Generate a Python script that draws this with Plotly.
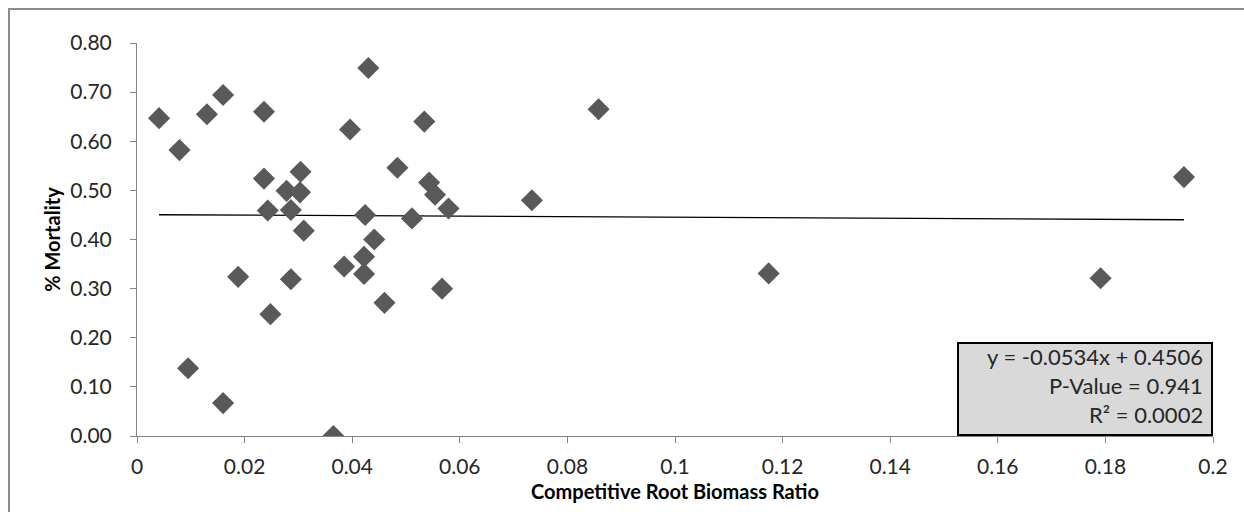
import plotly.graph_objects as go

# Data
root_biomass_ratio = [0.0041, 0.0079, 0.0095, 0.0130, 0.0160, 0.0160, 0.0188, 0.0236, 0.0236,
                      0.0243, 0.0248, 0.0278, 0.0286, 0.0286, 0.0303, 0.0304, 0.0310, 0.0365,
                      0.0385, 0.0396, 0.0422, 0.0422, 0.0424, 0.0430, 0.0441, 0.0460, 0.0484,
                      0.0511, 0.0534, 0.0543, 0.0554, 0.0567, 0.0579, 0.0734, 0.0858, 0.1174,
                      0.1791, 0.1946]
mortality = [0.647, 0.582, 0.138, 0.655, 0.694, 0.067, 0.324, 0.660, 0.524,
             0.459, 0.248, 0.499, 0.460, 0.319, 0.496, 0.538, 0.418, 0.000,
             0.345, 0.624, 0.365, 0.330, 0.450, 0.749, 0.400, 0.271, 0.546,
             0.443, 0.640, 0.516, 0.491, 0.300, 0.463, 0.480, 0.665, 0.331,
             0.321, 0.527]

slope = -0.0534
intercept = 0.4506
stats_lines = ["y = -0.0534x + 0.4506", "P-Value = 0.941", "R² = 0.0002"]

x_tickvals = [0, 0.02, 0.04, 0.06, 0.08, 0.1, 0.12, 0.14, 0.16, 0.18, 0.2]
x_ticktext = ["0", "0.02", "0.04", "0.06", "0.08", "0.1", "0.12", "0.14", "0.16", "0.18", "0.2"]
y_tickvals = [0, 0.1, 0.2, 0.3, 0.4, 0.5, 0.6, 0.7, 0.8]
y_ticktext = ["0.00", "0.10", "0.20", "0.30", "0.40", "0.50", "0.60", "0.70", "0.80"]

x_title = "Competitive Root Biomass Ratio"
y_title = "% Mortality"

FONT = "Lato, 'Open Sans', sans-serif"
W, H = 1244, 512
L, R, T, B = 137, 31, 43, 76
pw, ph = W - L - R, H - T - B

def px2paper_x(px):
    return (px - L) / pw

def px2paper_y(py):
    return (H - B - py) / ph

xmin, xmax = min(root_biomass_ratio), max(root_biomass_ratio)
trend_x = [xmin, xmax]
trend_y = [slope * v + intercept for v in trend_x]

fig = go.Figure()
fig.add_trace(go.Scatter(
    x=trend_x, y=trend_y, mode="lines",
    line=dict(color="#000000", width=1.3), hoverinfo="skip", showlegend=False))
fig.add_trace(go.Scatter(
    x=root_biomass_ratio, y=mortality, mode="markers",
    marker=dict(symbol="diamond", size=17, color="#595959", line=dict(width=0)),
    showlegend=False))

# outer chart border
fig.add_shape(type="rect", xref="paper", yref="paper",
              x0=px2paper_x(9), x1=px2paper_x(1260), y0=px2paper_y(530), y1=px2paper_y(9),
              line=dict(color="#8c8c8c", width=2), fillcolor="rgba(0,0,0,0)", layer="below")

# stats box
fig.add_shape(type="rect", xref="paper", yref="paper",
              x0=px2paper_x(958), x1=px2paper_x(1212), y0=px2paper_y(435), y1=px2paper_y(343),
              line=dict(color="#000000", width=2), fillcolor="#d9d9d9", layer="above")
for i, txt in enumerate(stats_lines):
    fig.add_annotation(xref="paper", yref="paper", x=px2paper_x(1205), y=px2paper_y(356 + 29 * i),
                       text=txt, showarrow=False, xanchor="right", yanchor="middle",
                       font=dict(family=FONT, size=22, color="#262626"))

fig.update_layout(
    width=W, height=H,
    margin=dict(l=L, r=R, t=T, b=B),
    paper_bgcolor="white", plot_bgcolor="white",
    font=dict(family=FONT, size=16, color="#262626"),
    xaxis=dict(range=[0, 0.2], tickvals=x_tickvals, ticktext=x_ticktext,
               showgrid=False, zeroline=False, showline=True, linecolor="#868686", linewidth=1,
               ticks="outside", ticklen=6, tickcolor="#868686", ticklabelstandoff=6,
               tickfont=dict(family=FONT, size=21, color="#262626"),
               title=dict(text=f"<b>{x_title}</b>", font=dict(family=FONT, size=20, color="#000"),
                          standoff=7)),
    yaxis=dict(range=[0, 0.8], tickvals=y_tickvals, ticktext=y_ticktext,
               showgrid=False, zeroline=False, showline=True, linecolor="#868686", linewidth=1,
               ticks="outside", ticklen=6, tickcolor="#868686", ticklabelstandoff=14,
               tickfont=dict(family=FONT, size=21, color="#262626"),
               title=dict(text=f"<b>{y_title}</b>", font=dict(family=FONT, size=20, color="#000"),
                          standoff=4)),
)

fig.write_html("out.html")
